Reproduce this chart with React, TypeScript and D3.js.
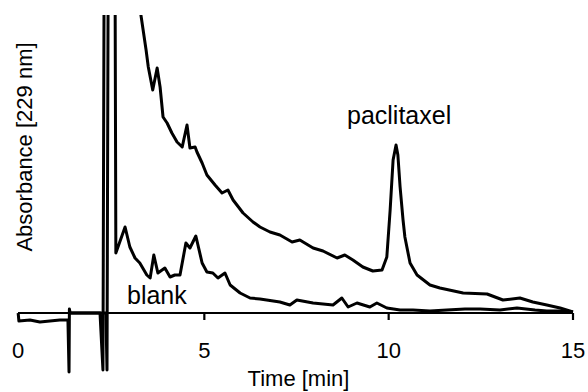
import * as d3 from 'd3';

// retention time (min) and absorbance (mAU)
const blankTime = [
  -0.05, -0.03, 0.27, 0.54, 0.81, 1.08, 1.3, 1.33, 1.34, 1.36, 2.17, 2.25, 2.28, 2.58, 2.6,
  2.85, 2.98, 3.12, 3.25, 3.44, 3.53, 3.63, 3.74, 3.93, 4.07, 4.2, 4.34, 4.5, 4.61, 4.77,
  4.94, 5.07, 5.23, 5.37, 5.56, 5.7, 5.97, 6.24, 6.51, 7.05, 7.32, 7.51, 7.95, 8.49, 8.73,
  8.9, 9.14, 9.49, 9.68, 9.95, 10.31, 10.66, 11.12, 11.58, 12.07, 12.48, 13.02, 13.48,
  13.97, 14.29, 14.65, 15.0,
];
const blankAbs = [
  0, -4, -3.5, -4.5, -4, -3.5, -3.5, -29.5, 2, 0, 0, -28.5, 160, 160, 30,
  43, 33, 27.5, 25, 19, 17.5, 29, 20, 22.5, 18, 19, 19, 35, 32.5, 38.5,
  25, 20.5, 20, 17.5, 20, 14, 10, 7.5, 7, 5.5, 4, 6.5, 5, 4, 7.5,
  3, 5, 3, 5, 2.5, 1.5, 1.5, 1, 1.5, 2, 2, 1.5, 2.5,
  1.5, 1, 1, 0.5,
];

const sampleTime = [
  1.36, 2.33, 2.36, 2.39, 3.2, 3.28, 3.42, 3.48, 3.6, 3.72, 3.8, 3.88, 3.99, 4.12, 4.26,
  4.4, 4.53, 4.61, 4.75, 4.8, 4.94, 5.07, 5.29, 5.48, 5.64, 5.78, 6.05, 6.32, 6.51, 6.78,
  7.05, 7.38, 7.59, 7.95, 8.22, 8.6, 8.81, 9.03, 9.3, 9.57, 9.82, 9.95, 10.04, 10.12, 10.2,
  10.25, 10.31, 10.39, 10.44, 10.58, 10.77, 11.12, 11.39, 12.02, 12.67, 13.1, 13.56, 13.91,
  14.29, 14.65, 15.0,
];
const sampleAbs = [
  0, 0, -28.5, 160, 160, 149, 131.5, 123, 111.5, 122.5, 113, 98, 95, 90, 85.5,
  83, 94, 82.5, 83, 80.5, 75, 69, 64, 60, 61.5, 56.5, 50, 45.5, 43, 40.5,
  39, 35.5, 36.5, 32.5, 31, 27.5, 29, 26.5, 23, 21, 21.5, 28, 51.5, 76.5, 84,
  79, 63, 46.5, 38, 25, 19, 14, 12.5, 10, 9.5, 6.5, 7.5, 5.5,
  4, 2.5, 0.5,
];

const xTicks = [0, 5, 10, 15];

const W = 588;
const H = 392;

export default function App() {
  const x = d3.scaleLinear().domain([0, 15]).range([20, 573]);
  const y = d3.scaleLinear().domain([0, 150]).range([313, 13]);

  const line = d3
    .line<[number, number]>()
    .x((d) => x(d[0]))
    .y((d) => y(d[1]));

  const blank = d3.zip(blankTime, blankAbs) as [number, number][];
  const sample = d3.zip(sampleTime, sampleAbs) as [number, number][];

  const font = "'Liberation Sans', Arial, sans-serif";

  return (
    <svg
      width={W}
      height={H}
      style={{ position: 'absolute', left: 0, top: 0, background: '#fff' }}
      fontFamily={font}
    >
      <defs>
        <clipPath id="plot">
          <rect x={0} y={15} width={W} height={H - 15} />
        </clipPath>
      </defs>

      {/* axis */}
      <line x1={18} x2={x(15)} y1={y(0)} y2={y(0)} stroke="#000" strokeWidth={2.2} />
      {xTicks.slice(1).map((t) => (
        <line key={t} x1={x(t)} x2={x(t)} y1={y(0)} y2={y(0) + 7} stroke="#000" strokeWidth={2.2} />
      ))}
      {xTicks.map((t) => (
        <text key={t} x={x(t) - (t === 0 ? 2 : 0)} y={358} fontSize={22} textAnchor="middle">
          {t}
        </text>
      ))}
      <text x={(x(0) + x(15)) / 2 + 2} y={386} fontSize={22} textAnchor="middle">
        Time [min]
      </text>
      <text
        transform={`translate(32,147) rotate(-90)`}
        fontSize={22}
        textAnchor="middle"
      >
        Absorbance [229 nm]
      </text>

      <g clipPath="url(#plot)" fill="none" stroke="#000" strokeWidth={3} strokeLinejoin="round">
        <path d={line(blank) ?? ''} />
        <path d={line(sample) ?? ''} />
      </g>

      <text x={127} y={304} fontSize={25}>
        blank
      </text>
      <text x={347} y={124} fontSize={25}>
        paclitaxel
      </text>
    </svg>
  );
}
